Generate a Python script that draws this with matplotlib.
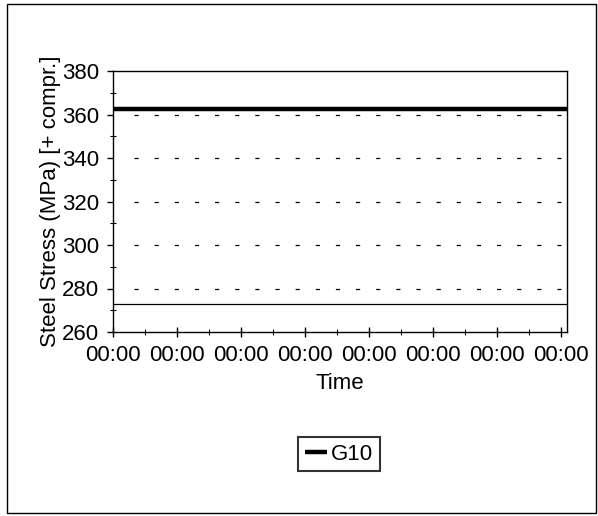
import numpy as np
import matplotlib
matplotlib.use("Agg")
import matplotlib.pyplot as plt
from matplotlib.patches import Rectangle
from matplotlib.ticker import MultipleLocator

plt.rcParams['font.family'] = ['Liberation Sans', 'DejaVu Sans']
plt.rcParams['lines.scale_dashes'] = False

# data
time = [0.0, 7.12]
g10 = [362.5, 362.5]
lower_line = [272.8, 272.8]
x_ticks = [0, 1, 2, 3, 4, 5, 6, 7]
x_labels = ["00:00"] * 8
y_ticks = [260, 280, 300, 320, 340, 360, 380]

fig = plt.figure(figsize=(5.98, 5.16), dpi=100)
ax = fig.add_axes([113/598, 1-332/516, (567-113)/598, (332-71)/516])

# outer chart frame
fig.patches.append(Rectangle((7/598, 3/516), (596-7)/598, (513-4)/516,
                             transform=fig.transFigure, fill=False,
                             edgecolor='black', linewidth=1.0))

# dashed gridlines
for yv in [280, 300, 320, 340, 360]:
    ax.plot([0.33, 7.0], [yv, yv], color='black', linewidth=0.9,
            linestyle=(0, (3, 11.5)), zorder=1)

ax.plot(time, lower_line, color='black', linewidth=0.9, zorder=2)
ax.plot(time, g10, color='black', linewidth=3.2, label='G10', zorder=3,
        clip_on=False, solid_capstyle='butt')

ax.set_xlim(0, 7.1)
ax.set_ylim(260, 380)
ax.set_xticks(x_ticks)
ax.set_xticklabels(x_labels)
ax.xaxis.set_minor_locator(MultipleLocator(0.5))
ax.set_yticks(y_ticks)
ax.yaxis.set_minor_locator(MultipleLocator(10))

ax.tick_params(axis='x', which='major', direction='inout', length=7, width=1,
               labelsize=16, pad=6)
ax.tick_params(axis='x', which='minor', direction='inout', length=5, width=0.8)
ax.tick_params(axis='y', which='major', direction='out', length=4, width=1,
               labelsize=16, pad=6)
ax.tick_params(axis='y', which='minor', direction='inout', length=5, width=0.8)

for s in ax.spines.values():
    s.set_linewidth(1.0)

ax.set_xlabel("Time", fontsize=16, labelpad=5)
ax.set_ylabel("Steel Stress (MPa) [+ compr.]", fontsize=16, labelpad=1)

leg = ax.legend(loc='center', bbox_to_anchor=(339/598, 1-454/516),
                bbox_transform=fig.transFigure, fontsize=16, frameon=True,
                fancybox=False, handlelength=1.0, handletextpad=0.2,
                borderpad=0.3, borderaxespad=0)
leg.get_frame().set_edgecolor('black')
leg.get_frame().set_linewidth(1.5)

fig.savefig("out.png", dpi=100)
